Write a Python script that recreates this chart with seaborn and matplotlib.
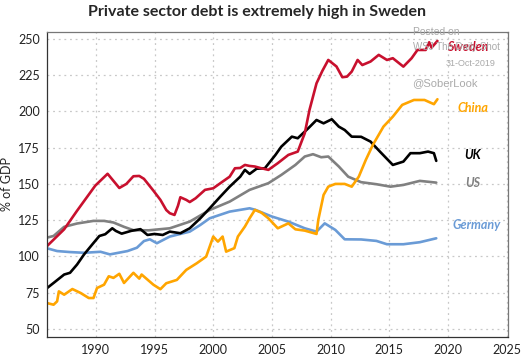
import matplotlib
matplotlib.use("Agg")
import matplotlib.pyplot as plt
import seaborn as sns
import pandas as pd

# Private sector debt, % of GDP
sweden_years = [1985.85, 1987.3, 1988.4, 1989.95, 1991.0, 1992.0, 1992.6, 1993.2, 1993.7, 1994.1,
                1994.9, 1995.5, 1996.0, 1996.3, 1996.7, 1997.0, 1997.2, 1997.7, 1998.0, 1998.5,
                1999.3, 2000.0, 2000.8, 2001.4, 2001.85, 2002.3, 2002.7, 2003.1, 2003.55, 2004.0,
                2004.7, 2005.5, 2006.4, 2007.2, 2007.8, 2008.2, 2008.8, 2009.3, 2009.8, 2010.5,
                2011.0, 2011.4, 2011.8, 2012.3, 2012.7, 2013.4, 2014.1, 2014.8, 2015.3, 2016.2,
                2016.9, 2017.4, 2018.1, 2018.4, 2018.6, 2019.1]
sweden = [107.2, 118.7, 131.5, 148.8, 157.0, 147.2, 150.0, 155.3, 155.5, 153.5,
          145.4, 139.0, 132.0, 129.8, 128.6, 135.0, 140.8, 139.0, 137.5, 140.1,
          145.9, 147.0, 151.6, 155.0, 160.8, 161.0, 163.1, 162.4, 162.0, 161.0,
          159.7, 164.3, 170.0, 172.3, 185.0, 201.0, 219.4, 228.0, 235.5, 231.0,
          223.6, 224.0, 227.5, 235.5, 232.0, 234.4, 239.0, 235.5, 236.7, 230.9,
          236.7, 242.4, 242.4, 247.7, 244.0, 248.6]

uk_years = [1985.85, 1986.4, 1987.3, 1987.8, 1988.4, 1989.0, 1989.7, 1990.3, 1990.8, 1991.4,
            1991.7, 1992.2, 1993.0, 1993.8, 1994.4, 1995.0, 1995.7, 1996.3, 1997.2, 1998.0,
            1998.9, 1999.7, 2000.6, 2001.4, 2002.3, 2002.7, 2003.1, 2003.7, 2004.4, 2005.3,
            2005.8, 2006.7, 2007.2, 2008.1, 2008.8, 2009.4, 2010.1, 2010.7, 2011.2, 2011.8,
            2012.6, 2013.4, 2014.2, 2015.3, 2016.2, 2016.8, 2017.6, 2018.3, 2018.8, 2019.0]
uk = [78.2, 81.7, 87.5, 88.7, 94.4, 101.4, 108.3, 114.1, 115.3, 119.4,
      117.6, 115.7, 117.6, 118.8, 114.8, 115.5, 114.8, 117.1, 116.0, 119.4,
      126.3, 133.2, 141.2, 148.1, 155.0, 159.7, 156.9, 160.5, 160.8, 170.0,
      175.7, 182.6, 181.5, 188.4, 194.1, 191.8, 194.6, 189.5, 187.2, 182.6,
      182.5, 179.2, 172.3, 163.1, 165.4, 171.2, 171.2, 172.3, 171.2, 165.9]

us_years = [1985.85, 1986.4, 1987.3, 1988.4, 1989.8, 1990.7, 1991.5, 1992.4, 1993.2, 1994.5,
            1996.3, 1998.0, 1999.7, 2001.4, 2003.1, 2004.7, 2005.8, 2007.0, 2007.8, 2008.5,
            2009.2, 2009.8, 2010.7, 2011.5, 2012.6, 2013.9, 2015.1, 2016.2, 2017.6, 2019.0]
us = [113.0, 114.1, 120.4, 122.7, 124.5, 124.5, 123.4, 120.4, 118.1, 118.0,
      119.4, 124.0, 132.0, 137.8, 145.9, 150.5, 156.2, 163.1, 168.9, 170.5,
      168.4, 168.9, 162.0, 155.0, 151.2, 149.8, 148.1, 149.3, 152.1, 150.9]

germany_years = [1985.85, 1986.7, 1987.8, 1989.0, 1990.4, 1991.2, 1992.7, 1993.5, 1994.1, 1994.6,
                 1995.2, 1996.3, 1998.0, 1998.9, 1999.7, 2001.4, 2003.1, 2003.6, 2005.0, 2006.4,
                 2007.8, 2008.8, 2009.5, 2010.4, 2011.2, 2012.6, 2013.9, 2014.8, 2016.2, 2017.6,
                 2019.0]
germany = [105.6, 103.7, 103.0, 102.5, 103.2, 101.4, 103.7, 106.0, 110.6, 111.8,
           109.1, 113.7, 117.1, 121.7, 126.3, 130.9, 133.2, 132.1, 127.5, 124.0,
           119.4, 117.1, 122.8, 118.3, 111.8, 111.7, 110.7, 108.4, 108.4, 109.8,
           112.5]

china_years = [1985.85, 1986.4, 1986.7, 1986.85, 1987.3, 1988.0, 1988.7, 1989.4, 1989.8, 1990.1,
               1990.7, 1991.1, 1991.5, 1992.0, 1992.4, 1993.2, 1993.7, 1993.9, 1994.9, 1995.5,
               1996.0, 1996.9, 1997.7, 1998.6, 1999.4, 1999.7, 2000.0, 2000.4, 2000.8, 2001.1,
               2001.8, 2002.1, 2002.7, 2003.1, 2003.55, 2004.1, 2004.7, 2005.5, 2006.4, 2007.0,
               2007.8, 2008.8, 2008.95, 2009.4, 2009.8, 2010.4, 2011.2, 2011.8, 2012.4, 2013.0,
               2013.6, 2014.5, 2015.3, 2016.1, 2017.1, 2018.0, 2018.8, 2019.1]
china = [67.8, 66.7, 69.0, 75.9, 73.6, 77.5, 74.8, 71.3, 71.3, 78.2,
         80.5, 86.3, 85.2, 88.0, 81.7, 88.7, 84.7, 87.5, 80.5, 77.4,
         81.5, 83.8, 90.7, 95.3, 99.9, 106.8, 113.7, 110.2, 113.7, 103.3,
         105.7, 113.7, 120.6, 126.3, 132.1, 130.2, 126.3, 119.4, 122.8, 118.7,
         117.8, 115.5, 125.2, 142.4, 148.1, 150.0, 150.0, 148.1, 155.0, 166.6,
         176.9, 189.5, 196.4, 204.5, 207.9, 207.9, 205.0, 208.4]

countries = ["Sweden", "China", "UK", "US", "Germany"]
colors = ["#c8102e", "#ffa500", "#000000", "#808080", "#6a9bd6"]
label_pos = [(2021.7, 244.5), (2022.1, 202.5), (2022.1, 170), (2022.1, 150.5), (2022.4, 121.5)]

frames = []
for name, yrs, vals in [("Sweden", sweden_years, sweden), ("China", china_years, china),
                        ("UK", uk_years, uk), ("US", us_years, us),
                        ("Germany", germany_years, germany)]:
    frames.append(pd.DataFrame({"year": yrs, "debt": vals, "country": name}))
df = pd.concat(frames, ignore_index=True)

sns.set_style("white")
plt.rcParams["font.family"] = ["Lato", "DejaVu Sans"]

fig = plt.figure(figsize=(5.21, 3.6), dpi=100)
ax = fig.add_axes([0.090, 0.065, 0.885, 0.847])

# draw in reverse so Sweden ends up on top
for name, col in list(zip(countries, colors))[::-1]:
    sub = df[df["country"] == name]
    sns.lineplot(data=sub, x="year", y="debt", color=col, linewidth=1.9,
                 estimator=None, sort=False, ax=ax, legend=False)

ax.set_xlim(1985.83, 2025.11)
ax.set_ylim(44.7, 255)
ax.set_xticks(range(1990, 2026, 5))
ax.set_yticks(range(50, 251, 25))
ax.grid(True, linestyle=(0, (1.5, 3)), color="#c8c8c8", linewidth=0.9)
ax.tick_params(axis="both", direction="out", length=3, width=0.8, labelsize=9,
               colors="#222222", pad=2)
for side in ["left", "bottom"]:
    ax.spines[side].set_color("#333333")
for side in ["top", "right"]:
    ax.spines[side].set_color("#777777")
for s in ax.spines.values():
    s.set_linewidth(0.9)
ax.set_xlabel("")
ax.set_ylabel("% of GDP", fontsize=9, labelpad=4)

# watermark
wm = dict(color="#aaaaaa", family=["Liberation Sans", "DejaVu Sans"],
          transform=fig.transFigure, zorder=1, ha="left", va="center")
fig.text(0.793, 0.911, "Posted on", fontsize=7.5, **wm)
fig.text(0.793, 0.869, "WSJ The Daily Shot", fontsize=7, **wm)
fig.text(0.856, 0.825, "31-Oct-2019", fontsize=6.5, **wm)
fig.text(0.791, 0.769, "@SoberLook", fontsize=8, **wm)

for name, col, (lx, ly) in zip(countries, colors, label_pos):
    ax.text(lx, ly, name, color=col, fontsize=9, fontweight="bold", style="italic",
            ha="center", va="center", clip_on=False, zorder=5)

fig.suptitle("Private sector debt is extremely high in Sweden", fontsize=11.5,
             fontweight="bold", x=0.494, y=0.985, va="top")

fig.savefig("out.png", dpi=100)
